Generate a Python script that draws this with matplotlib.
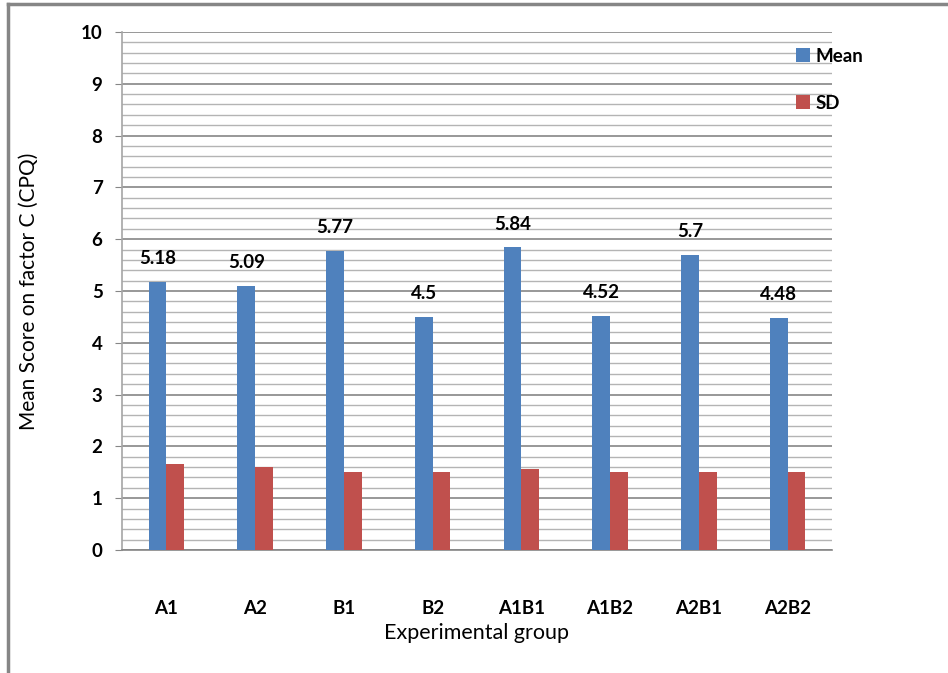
import numpy as np
import matplotlib.pyplot as plt
from matplotlib.lines import Line2D
from matplotlib.ticker import MultipleLocator

plt.rcParams['font.family'] = ['Lato', 'DejaVu Sans']

groups = ['A1', 'A2', 'B1', 'B2', 'A1B1', 'A1B2', 'A2B1', 'A2B2']
mean_scores = [5.18, 5.09, 5.77, 4.5, 5.84, 4.52, 5.7, 4.48]
sd_scores = [1.66, 1.60, 1.51, 1.51, 1.56, 1.51, 1.51, 1.51]
mean_labels = ['5.18', '5.09', '5.77', '4.5', '5.84', '4.52', '5.7', '4.48']

fig = plt.figure(figsize=(9.48, 6.73), dpi=100)
ax = fig.add_axes([0.1287, 0.1828, 0.7489, 0.7697])

x = np.arange(len(groups))
w = 0.2
ax.bar(x - w / 2, mean_scores, w, color='#4F81BD', label='Mean', zorder=3)
ax.bar(x + w / 2, sd_scores, w, color='#C0504D', label='SD', zorder=3)

for xi, v, txt in zip(x, mean_scores, mean_labels):
    ax.text(xi - w / 2, v + 0.45, txt, ha='center', va='center',
            fontsize=13.5, fontweight='bold')

ax.set_xlim(-0.5, len(groups) - 0.5)
ax.set_ylim(0, 10)
ax.yaxis.set_major_locator(MultipleLocator(1))
ax.yaxis.set_minor_locator(MultipleLocator(0.2))
ax.grid(axis='y', which='major', color='#868686', linewidth=1.2, zorder=0)
ax.grid(axis='y', which='minor', color='#b4b4b4', linewidth=1.0, zorder=0)
ax.set_axisbelow(True)

ax.set_xticks(x)
ax.set_xticklabels(groups, fontsize=13.5, fontweight='bold')
ax.tick_params(axis='x', length=0, pad=36)
ax.tick_params(axis='y', which='major', length=5, color='#868686',
               labelsize=13.5, pad=9)
ax.tick_params(axis='y', which='minor', length=0)
for lbl in ax.get_yticklabels():
    lbl.set_fontweight('bold')

for s in ['top', 'right']:
    ax.spines[s].set_visible(False)
for s in ['left', 'bottom']:
    ax.spines[s].set_color('#868686')
    ax.spines[s].set_linewidth(1.2)
ax.spines['left'].set_color('#a6a6a6')

ax.set_xlabel('Experimental group', fontsize=15.5, labelpad=4)
ax.set_ylabel('Mean Score on factor C (CPQ)', fontsize=15, labelpad=30)

fig.legend(loc='upper left', bbox_to_anchor=(0.832, 0.94), frameon=False,
           handlelength=0.75, handleheight=0.75,
           handletextpad=0.3, labelspacing=1.6, borderaxespad=0,
           prop={'size': 13.5, 'weight': 'bold'})

# outer chart border (top and left edges only)
fig.add_artist(Line2D([0.008, 0.008], [0, 0.994], color='#868686', lw=2.5))
fig.add_artist(Line2D([0.008, 1.0], [0.994, 0.994], color='#868686', lw=2.5))

fig.savefig('out.png', dpi=100)
